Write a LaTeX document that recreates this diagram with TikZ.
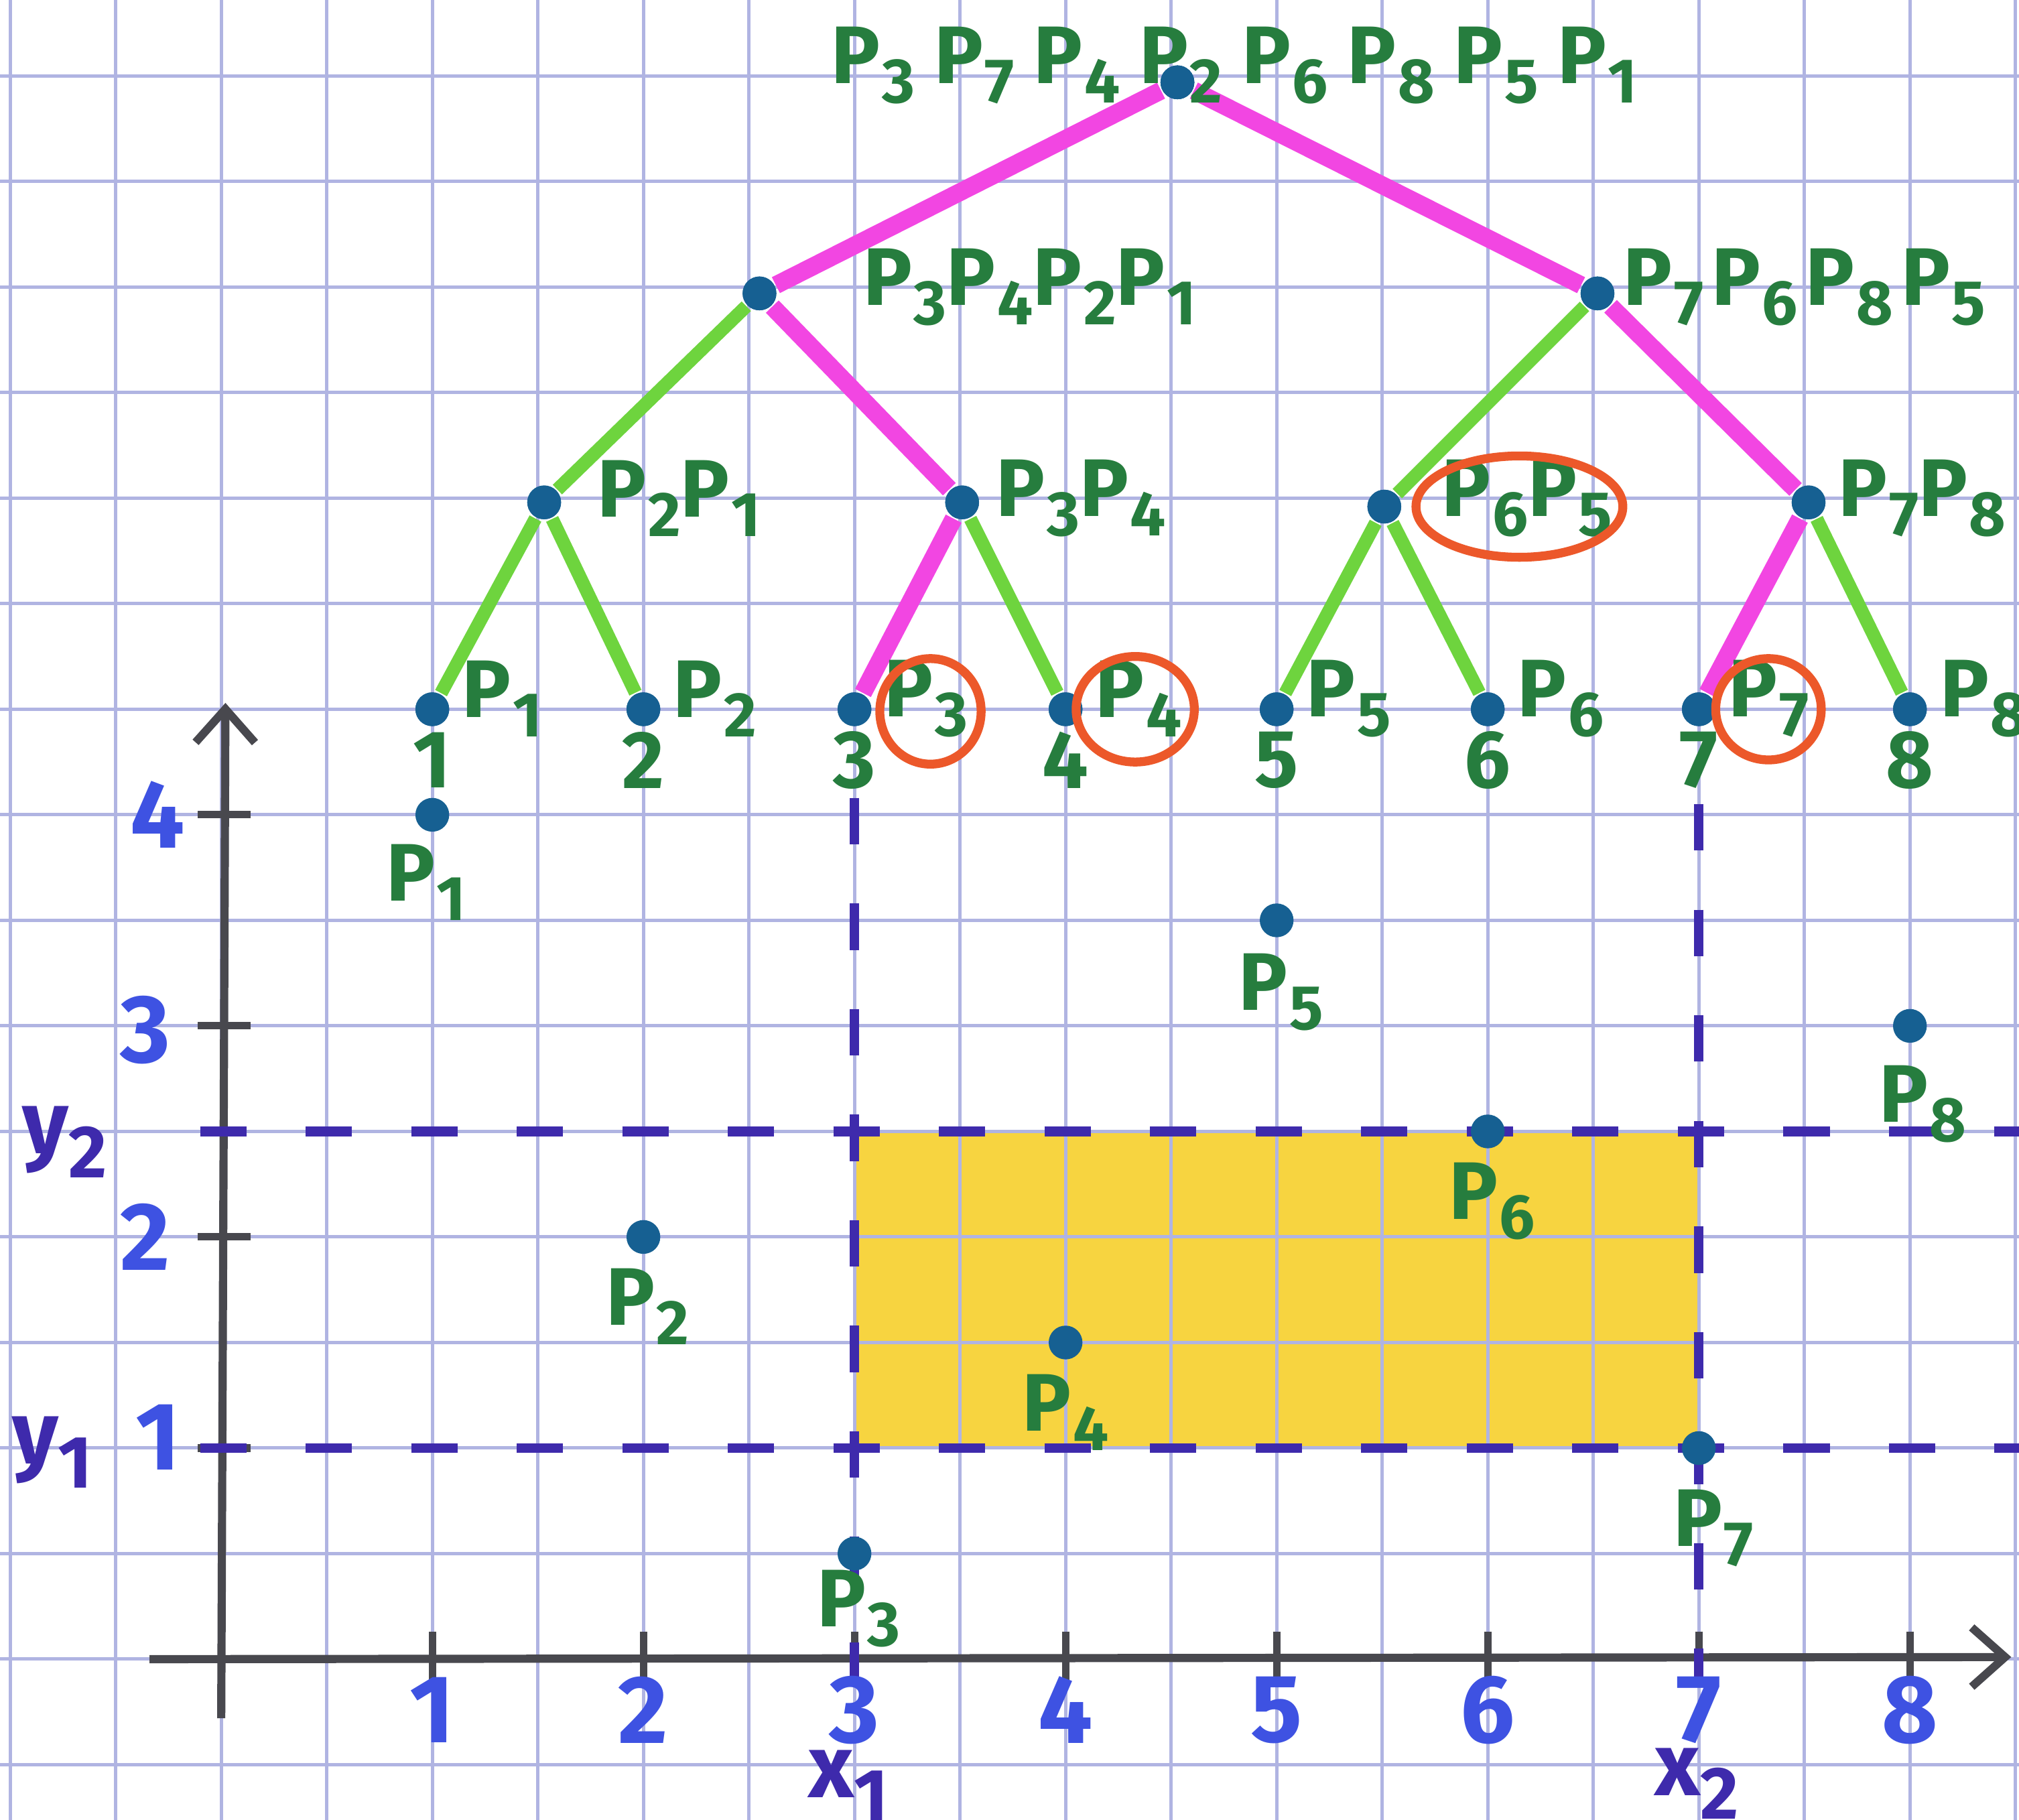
\documentclass[tikz,border=0pt]{standalone}
\usepackage{fontspec}
\setmainfont{Fira Sans}
\usetikzlibrary{arrows.meta}
\definecolor{gridc}{RGB}{176,180,226}
\definecolor{greenT}{RGB}{38,125,62}
\definecolor{greenE}{RGB}{110,212,62}
\definecolor{magE}{RGB}{242,70,226}
\definecolor{dotc}{RGB}{22,96,146}
\definecolor{blueN}{RGB}{62,82,226}
\definecolor{purp}{RGB}{62,42,172}
\definecolor{redc}{RGB}{236,88,42}
\definecolor{yel}{RGB}{247,212,64}
\definecolor{axisc}{RGB}{72,72,78}
\newcommand\ptl[1]{P\kern0.02em\raisebox{-0.45ex}{\fontsize{8.5}{9}\selectfont #1}}
\begin{document}
\begin{tikzpicture}[
  gridline/.style={draw=gridc, line width=0.45pt},
  ax/.style={draw=axisc, line width=1.1pt},
  tk/.style={draw=axisc, line width=1pt},
  tdot/.style={circle, fill=dotc, inner sep=0pt, minimum size=0.16cm},
  gedge/.style={draw=greenE, line width=1.8pt},
  medge/.style={draw=magE, line width=2.4pt},
  tlab/.style={text=greenT, font=\fontsize{11}{13}\selectfont\bfseries, inner sep=1pt},
  nlab/.style={text=blueN, font=\fontsize{13}{15}\selectfont\bfseries, inner sep=1pt},
  vlab/.style={text=purp, font=\fontsize{12}{14}\selectfont\bfseries, inner sep=1pt},
  guide/.style={draw=purp, line width=1.3pt, dash pattern=on 0.22cm off 0.28cm},
  ring/.style={draw=redc, line width=1.2pt}
]
\useasboundingbox (-1.048,-0.759) rectangle (8.517,7.860);
\clip (-1.048,-0.759) rectangle (8.517,7.860);
\fill[white] (-1.048,-0.759) rectangle (8.517,7.860);
% yellow query rectangle
\fill[yel] (3,1) rectangle (7,2.5);
% grid paper
\draw[gridline] (-1.5,-1) grid[step=0.5] (9,8.5);

% axes
\coordinate (xs) at (-0.34,0);
\coordinate (xe) at (8.48,0.01);
\coordinate (ys) at (0,-0.28);
\coordinate (ye) at (0.02,4.53);
\draw[ax, -{Straight Barb[length=4.5pt, width=8pt]}] (xs) -- (xe);
\draw[ax, -{Straight Barb[length=4.5pt, width=8pt]}] (ys) -- (ye);
\foreach \i in {1,...,8} {\draw[tk] (\i,-0.12) -- (\i,0.13);}
\foreach \j in {1,...,4} {\draw[tk] (-0.11,\j) -- (0.14,\j);}

% dashed guides
\coordinate (h2a) at (-0.1,2.5); \coordinate (h2b) at (8.6,2.5);
\coordinate (h1a) at (-0.1,1);   \coordinate (h1b) at (8.6,1);
\coordinate (v3a) at (3,4.08);   \coordinate (v3b) at (3,-0.12);
\coordinate (v7a) at (7,4.05);   \coordinate (v7b) at (7,-0.1);
\draw[guide] (h2a) -- (h2b);
\draw[guide] (h1a) -- (h1b);
\draw[guide] (v3a) -- (v3b);
\draw[guide] (v7a) -- (v7b);

% axis labels
\node[nlab] (y4) at (-0.3,4.0) {4};
\node[nlab] (y3) at (-0.36,2.98) {3};
\node[nlab] (y2n) at (-0.36,2.0) {2};
\node[nlab] (y1n) at (-0.3,1.05) {1};
\node[vlab] (yy1) at (-0.8,0.98) {y\raisebox{-0.5ex}{\fontsize{10}{11}\selectfont 1}};
\node[vlab] (yy2) at (-0.74,2.45) {y\raisebox{-0.5ex}{\fontsize{10}{11}\selectfont 2}};
\foreach \i in {1,...,8} {\node[nlab] (x\i) at (\i,-0.24) {\i};}
\node[vlab] (xx1) at (2.97,-0.6) {x\raisebox{-0.5ex}{\fontsize{10}{11}\selectfont 1}};
\node[vlab] (xx2) at (6.99,-0.59) {x\raisebox{-0.5ex}{\fontsize{10}{11}\selectfont 2}};

% points
\node[tdot] (p1) at (1,4) {};
\node[tdot] (p2) at (2,2) {};
\node[tdot] (p3) at (3,0.5) {};
\node[tdot] (p4) at (4,1.5) {};
\node[tdot] (p5) at (5,3.5) {};
\node[tdot] (p6) at (6,2.5) {};
\node[tdot] (p7) at (7,1) {};
\node[tdot] (p8) at (8,3) {};
\node[tlab] (pl1) at (0.97,3.68) {\ptl{1}};
\node[tlab] (pl2) at (2.02,1.67) {\ptl{2}};
\node[tlab] (pl3) at (3.02,0.24) {\ptl{3}};
\node[tlab] (pl4) at (4.0,1.17) {\ptl{4}};
\node[tlab] (pl5) at (5.02,3.16) {\ptl{5}};
\node[tlab] (pl6) at (6.02,2.17) {\ptl{6}};
\node[tlab] (pl7) at (7.07,0.62) {\ptl{7}};
\node[tlab] (pl8) at (8.06,2.63) {\ptl{8}};

% tree nodes
\node[tdot] (r) at (4.53,7.47) {};
\node[tdot] (a) at (2.55,6.47) {};
\node[tdot] (b) at (6.52,6.47) {};
\node[tdot] (c1) at (1.53,5.48) {};
\node[tdot] (c2) at (3.51,5.48) {};
\node[tdot] (c3) at (5.51,5.46) {};
\node[tdot] (c4) at (7.52,5.48) {};
\foreach \i in {1,...,8} {\node[tdot] (l\i) at (\i,4.5) {};}

% tree edges
\draw[medge] (r) -- (a);
\draw[medge] (r) -- (b);
\draw[gedge] (a) -- (c1);
\draw[medge] (a) -- (c2);
\draw[gedge] (b) -- (c3);
\draw[medge] (b) -- (c4);
\draw[gedge] (c1) -- (l1);
\draw[gedge] (c1) -- (l2);
\draw[medge] (c2) -- (l3);
\draw[gedge] (c2) -- (l4);
\draw[gedge] (c3) -- (l5);
\draw[gedge] (c3) -- (l6);
\draw[medge] (c4) -- (l7);
\draw[gedge] (c4) -- (l8);

% redraw dots on top of edges
\foreach \n in {r,a,b,c1,c2,c3,c4,l1,l2,l3,l4,l5,l6,l7,l8} {\fill[dotc] (\n) circle (0.08);}

% tree labels
\node[tlab] (rl) at (4.8,7.55) {\ptl{3} \ptl{7} \ptl{4} \ptl{2} \ptl{6} \ptl{8} \ptl{5} \ptl{1}};
\fill[dotc] (r) circle (0.08);
\node[tlab, anchor=west] (al) at (3.0,6.5) {\ptl{3}\ptl{4}\ptl{2}\ptl{1}};
\node[tlab, anchor=west] (bl) at (6.6,6.5) {\ptl{7}\kern0.1em\ptl{6}\kern0.1em\ptl{8}\kern0.1em\ptl{5}};
\node[tlab, anchor=west] (c1l) at (1.74,5.5) {\ptl{2}\ptl{1}};
\node[tlab, anchor=west] (c2l) at (3.63,5.5) {\ptl{3}\ptl{4}};
\node[tlab, anchor=west] (c3l) at (5.74,5.5) {\ptl{6}\ptl{5}};
\node[tlab, anchor=west] (c4l) at (7.62,5.5) {\ptl{7}\ptl{8}};
\foreach \i in {1,...,8} {
  \node[tlab, anchor=west] (ll\i) at (\i+0.1,4.55) {\ptl{\i}};
  \node[tlab] (ln\i) at (\i,4.26) {\i};
}

% red circles
\draw[ring] (6.15,5.46) ellipse [x radius=0.49, y radius=0.24];
\draw[ring] (3.36,4.49) ellipse [x radius=0.24, y radius=0.25];
\draw[ring] (4.33,4.5) ellipse [x radius=0.28, y radius=0.25];
\draw[ring] (7.33,4.5) ellipse [x radius=0.25, y radius=0.24];
\end{tikzpicture}
\end{document}
